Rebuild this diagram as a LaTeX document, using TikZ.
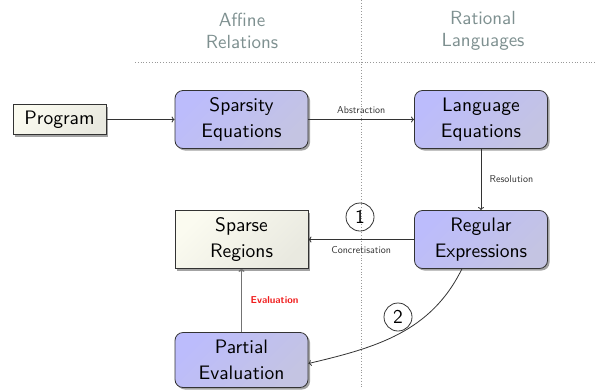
\documentclass[tikz,border=0pt]{standalone}
\usepackage{fontspec}
\setsansfont{lmsans10-regular.otf}[BoldFont=lmsans10-bold.otf]
\usetikzlibrary{shadows,arrows.meta}
\definecolor{headgray}{HTML}{7E9090}
\definecolor{linegray}{HTML}{333333}
\definecolor{evalred}{HTML}{F01E1E}
\definecolor{blueA}{HTML}{BCBCFC}
\definecolor{blueB}{HTML}{C4C4E2}
\definecolor{beigeA}{HTML}{FBFBF0}
\definecolor{beigeB}{HTML}{E9E9E0}
\tikzset{
  box/.style={draw=linegray, line width=0.8pt, minimum width=133pt, minimum height=58pt,
    align=center, font=\sffamily\fontsize{19.5}{26}\selectfont,
    drop shadow={shadow xshift=2pt, shadow yshift=-2pt, opacity=0.6, fill=black!60}},
  bluebox/.style={box, rounded corners=8pt, left color=blueA, right color=blueB, shading angle=45},
  beigebox/.style={box, left color=beigeA, right color=beigeB, shading angle=45},
  head/.style={text=headgray, align=center, font=\sffamily\fontsize{19}{22}\selectfont},
  lab/.style={text=linegray, font=\sffamily\fontsize{10}{12}\selectfont},
  conn/.style={draw=linegray, line width=0.8pt, -{To[length=3pt,width=6pt]}},
  num/.style={circle, draw=linegray, line width=0.8pt, minimum size=28pt, inner sep=0pt,
    font=\sffamily\fontsize{19.5}{24}\selectfont},
  sep/.style={draw=gray!80, dotted, line width=0.8pt}
}
\begin{document}
\begin{tikzpicture}[x=1pt,y=-1pt]
\useasboundingbox (0,0) rectangle (597,389);
% separators
\coordinate (vtop) at (361,0);
\coordinate (vbot) at (361,389);
\coordinate (hl) at (135,62);
\coordinate (hr) at (597,62);
\draw[sep] (vtop) -- (vbot);
\draw[sep] (hl) -- (hr);
% headings
\node[head] (h1) at (242,31) {Affine\\Relations};
\node[head] (h2) at (483,31) {Rational\\Languages};
% nodes
\node[beigebox, minimum width=93pt, minimum height=30pt, inner sep=2pt] (prog) at (59.5,119.5) {Program};
\node[bluebox] (spars) at (241.5,119.5) {Sparsity\\Equations};
\node[bluebox] (lang) at (481,119.5) {Language\\Equations};
\node[bluebox] (reg) at (481,239.5) {Regular\\Expressions};
\node[beigebox] (sparse) at (241.5,239.5) {Sparse\\Regions};
\node[bluebox, minimum height=55pt] (part) at (241.5,360) {Partial\\Evaluation};
% connectors
\draw[conn] (prog.east) -- (spars.west);
\draw[conn] (spars.east) -- node[lab, above=2pt] (abs) {Abstraction} (lang.west);
\draw[conn] (lang.south) -- node[lab, right=5pt] (res) {Resolution} (reg.north);
\draw[conn] (reg.west) -- node[lab, below=3pt] (conc) {Concretisation} (sparse.east);
\draw[draw=black!55, line width=1.6pt, -{To[length=3pt,width=6pt]}] (part.north) -- node[right=5pt, text=evalred, font=\sffamily\bfseries\fontsize{10}{12}\selectfont] (ev) {Evaluation} (sparse.south);
\draw[conn] (reg.237) .. controls +(-31,63) and +(68,-16) .. (part.-3);
% numbers
\node[num] (n1) at (360,217) {1};
\node[num] (n2) at (398,317) {2};
\end{tikzpicture}
\end{document}
